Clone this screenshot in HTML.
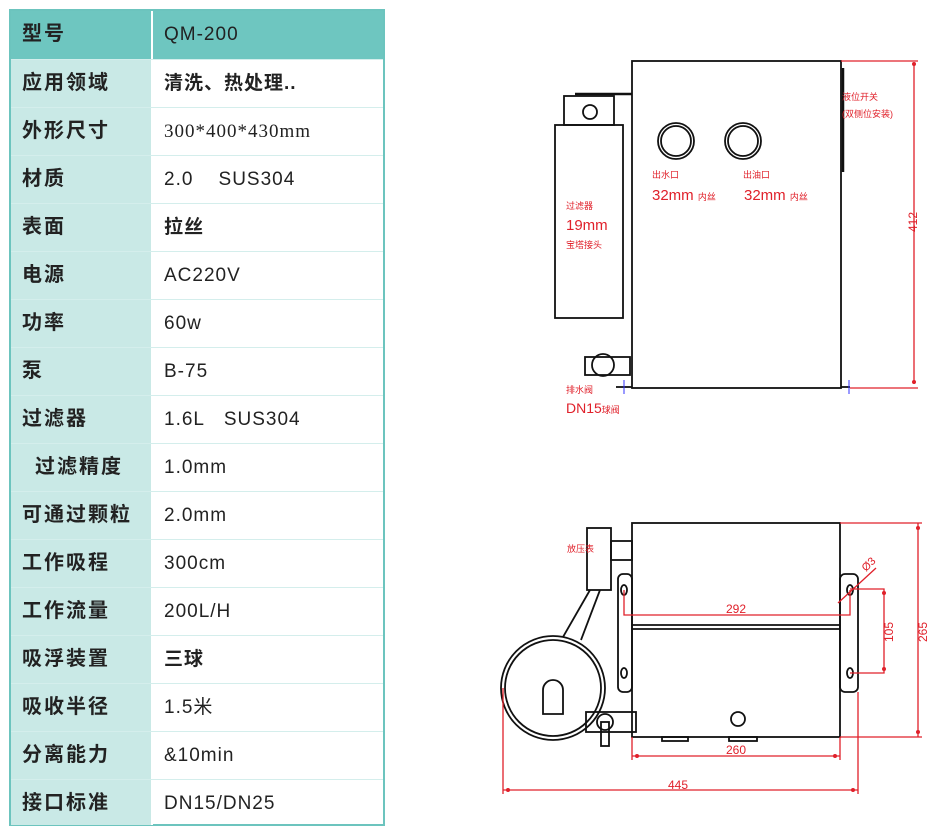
<!DOCTYPE html>
<html><head><meta charset="utf-8"><style>
body{margin:0;width:947px;height:827px;background:#fff;overflow:hidden;position:relative;font-family:"Liberation Sans","Noto Sans CJK SC",sans-serif}
.tb{position:absolute;left:9px;top:9px;width:372px;height:813px;border:2px solid #6cc4be;box-sizing:content-box}
.r{position:absolute;left:0;width:372px;height:48px;border-top:1px solid #d4eeec}
.l{position:absolute;left:0;top:0;width:142px;height:100%;background:#c9e9e6;border-right:2px solid #fff;font-weight:bold;font-size:20px;color:#222;line-height:47px;padding-left:11px;box-sizing:border-box;letter-spacing:2px}
.v{position:absolute;left:153px;top:0;font-size:19px;color:#222;line-height:47px;letter-spacing:1px}
.h .l,.h{background:#6ec6c0}
</style></head><body>
<div class="tb">
<div class="r h" style="top:0;border-top:none"><div class="l">型号</div><div class="v">QM-200</div></div>
<div class="r" style="top:48px"><div class="l">应用领域</div><div class="v" style="font-weight:bold">清洗、热处理..</div></div>
<div class="r" style="top:96px"><div class="l">外形尺寸</div><div class="v" style="font-family:'Liberation Serif',serif">300*400*430mm</div></div>
<div class="r" style="top:144px"><div class="l">材质</div><div class="v">2.0&nbsp;&nbsp;&nbsp;&nbsp;SUS304</div></div>
<div class="r" style="top:192px"><div class="l">表面</div><div class="v" style="font-weight:bold">拉丝</div></div>
<div class="r" style="top:240px"><div class="l">电源</div><div class="v">AC220V</div></div>
<div class="r" style="top:288px"><div class="l">功率</div><div class="v">60w</div></div>
<div class="r" style="top:336px"><div class="l">泵</div><div class="v">B-75</div></div>
<div class="r" style="top:384px"><div class="l">过滤器</div><div class="v">1.6L&nbsp;&nbsp;&nbsp;SUS304</div></div>
<div class="r" style="top:432px"><div class="l" style="padding-left:24px">过滤精度</div><div class="v">1.0mm</div></div>
<div class="r" style="top:480px"><div class="l">可通过颗粒</div><div class="v">2.0mm</div></div>
<div class="r" style="top:528px"><div class="l">工作吸程</div><div class="v">300cm</div></div>
<div class="r" style="top:576px"><div class="l">工作流量</div><div class="v">200L/H</div></div>
<div class="r" style="top:624px"><div class="l">吸浮装置</div><div class="v" style="font-weight:bold">三球</div></div>
<div class="r" style="top:672px"><div class="l">吸收半径</div><div class="v">1.5米</div></div>
<div class="r" style="top:720px"><div class="l">分离能力</div><div class="v">&amp;10min</div></div>
<div class="r" style="top:768px;height:45px"><div class="l">接口标准</div><div class="v">DN15/DN25</div></div>
</div>
<svg style="position:absolute;left:0;top:0" width="947" height="827" font-family="Liberation Sans,Noto Sans CJK SC,sans-serif">
<g fill="none" stroke="#111" stroke-width="1.8">
<rect x="632" y="61" width="209" height="327"/>
<line x1="843" y1="68" x2="843" y2="172" stroke-width="2.5"/>
<line x1="575" y1="94" x2="632" y2="94" stroke-width="2.5"/>
<rect x="564" y="96" width="50" height="29"/>
<circle cx="590" cy="112" r="7"/>
<rect x="555" y="125" width="68" height="193"/>
<circle cx="676" cy="141" r="18"/><circle cx="676" cy="141" r="15"/>
<circle cx="743" cy="141" r="18"/><circle cx="743" cy="141" r="15"/>
<rect x="585" y="357" width="45" height="18"/><circle cx="603" cy="365" r="11"/>
<line x1="616" y1="387" x2="632" y2="387"/>
<line x1="841" y1="387" x2="850" y2="387"/>
</g>
<g stroke="#e0202a" stroke-width="1.3" fill="none">
<line x1="841" y1="61" x2="918" y2="61"/><line x1="850" y1="388" x2="918" y2="388"/>
<line x1="914" y1="64" x2="914" y2="384"/>
</g>
<g fill="#e0202a"><circle cx="914" cy="64" r="2"/><circle cx="914" cy="382" r="2"/>
<circle cx="884" cy="593" r="2"/><circle cx="884" cy="669" r="2"/>
<circle cx="918" cy="528" r="2"/><circle cx="918" cy="732" r="2"/>
<circle cx="637" cy="756" r="2"/><circle cx="835" cy="756" r="2"/>
<circle cx="508" cy="790" r="2"/><circle cx="853" cy="790" r="2"/></g>
<g stroke="#33f" stroke-width="1"><line x1="624" y1="380" x2="624" y2="394"/><line x1="849" y1="380" x2="849" y2="394"/></g>
<g fill="#e0202a" font-size="9">
<text x="842" y="100">液位开关</text><text x="842" y="117">(双侧位安装)</text>
<text x="652" y="178">出水口</text><text x="743" y="178">出油口</text>
<text x="652" y="200" font-size="15">32mm <tspan font-size="9">内丝</tspan></text>
<text x="744" y="200" font-size="15">32mm <tspan font-size="9">内丝</tspan></text>
<text x="566" y="209">过滤器</text><text x="566" y="230" font-size="15">19mm</text><text x="566" y="248">宝塔接头</text>
<text x="566" y="393">排水阀</text><text x="566" y="413" font-size="14">DN15<tspan font-size="9">球阀</tspan></text>
<text transform="translate(917,232) rotate(-90)" font-size="12">412</text>
</g>
<g fill="none" stroke="#111" stroke-width="1.8">
<rect x="632" y="523" width="208" height="214"/>
<line x1="632" y1="625" x2="840" y2="625"/><line x1="632" y1="629" x2="840" y2="629"/>
<rect x="618" y="574" width="14" height="118" rx="5"/><rect x="840" y="574" width="18" height="118" rx="5"/>
<ellipse cx="624" cy="590" rx="3" ry="5"/><ellipse cx="624" cy="673" rx="3" ry="5"/>
<ellipse cx="850" cy="590" rx="3" ry="5"/><ellipse cx="850" cy="673" rx="3" ry="5"/>
<rect x="587" y="528" width="24" height="62"/>
<rect x="611" y="541" width="21" height="19"/>
<line x1="590" y1="590" x2="563" y2="637"/><line x1="600" y1="590" x2="581" y2="640"/>
<circle cx="553" cy="688" r="52"/><circle cx="553" cy="688" r="48"/>
<path d="M543 714 V690 A10 10 0 0 1 563 690 V714 Z"/>
<rect x="586" y="712" width="50" height="20"/><circle cx="605" cy="722" r="8"/>
<rect x="601" y="722" width="8" height="24"/>
<circle cx="738" cy="719" r="7"/>
<rect x="662" y="737" width="26" height="4"/><rect x="729" y="737" width="28" height="4"/>
</g>
<g stroke="#e0202a" stroke-width="1.3" fill="none">
<line x1="840" y1="523" x2="922" y2="523"/><line x1="840" y1="737" x2="922" y2="737"/>
<line x1="918" y1="523" x2="918" y2="737"/>
<polyline points="624,590 624,615 850,615 850,590"/>
<polyline points="850,589 884,589 884,673 850,673"/>
<line x1="632" y1="737" x2="632" y2="760"/><line x1="840" y1="737" x2="840" y2="760"/>
<line x1="632" y1="756" x2="840" y2="756"/>
<line x1="503" y1="688" x2="503" y2="794"/><line x1="858" y1="692" x2="858" y2="794"/>
<line x1="503" y1="790" x2="858" y2="790"/>
<line x1="838" y1="603" x2="876" y2="568"/>
</g>
<g fill="#e0202a" font-size="12">
<text x="726" y="613">292</text><text x="726" y="754">260</text><text x="668" y="789">445</text>
<text transform="translate(893,642) rotate(-90)">105</text>
<text transform="translate(927,642) rotate(-90)">265</text>
<text transform="translate(866,572) rotate(-45)" font-size="11">Ø3</text>
<text x="567" y="552" font-size="9">放压表</text>
</g>
</svg>
</body></html>
